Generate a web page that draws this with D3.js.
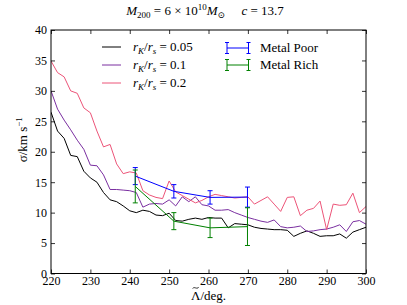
<!DOCTYPE html>
<html>
<head>
<meta charset="utf-8">
<script src="https://cdn.jsdelivr.net/npm/d3@7"></script>
<style>
  body { margin: 0; background: #fff; }
  text { font-family: "Liberation Serif", "DejaVu Serif", serif; }
</style>
</head>
<body>
<script>
// angle grid, 220..300 in steps of 5/3 deg
const lambda = d3.range(49).map(i => 220 + i * 5 / 3);

const sigmaK005 = [26.5, 23.4, 22.2, 19.4, 19.2, 16.8, 15.7, 15.0, 13.3, 12.1, 11.8, 11.1, 10.3, 10.0, 10.4, 10.2,
  9.6, 9.5, 9.9, 8.7, 8.6, 8.9, 9.1, 8.9, 9.2, 9.1, 9.1, 7.5, 8.2, 8.1, 8.0, 7.6, 7.4, 7.3, 7.2, 7.2, 7.1,
  6.1, 6.6, 7.0, 6.6, 6.1, 6.2, 6.2, 6.5, 5.8, 6.8, 7.2, 7.6];
const sigmaK01 = [30.0, 27.0, 25.2, 23.6, 21.9, 20.4, 17.8, 17.7, 16.2, 13.8, 13.8, 13.7, 13.6, 13.3, 10.9, 11.4,
  11.5, 11.4, 12.1, 11.1, 12.6, 11.8, 12.6, 11.3, 11.1, 10.4, 10.4, 10.5, 10.0, 9.6, 9.2, 8.9, 8.6, 8.4, 8.8,
  7.7, 7.5, 7.6, 7.8, 6.9, 7.0, 7.2, 7.3, 7.6, 8.0, 6.9, 8.5, 8.7, 8.1];
const sigmaK02 = [34.9, 33.0, 32.3, 30.0, 29.6, 27.2, 26.4, 23.4, 20.8, 21.2, 18.0, 16.4, 16.7, 16.5, 13.6, 12.9,
  12.5, 12.3, 15.2, 13.4, 12.8, 12.2, 11.6, 12.0, 12.6, 13.0, 12.8, 12.6, 12.4, 12.5, 12.6, 11.4, 12.0, 12.6,
  11.4, 10.2, 12.5, 12.6, 9.5, 10.4, 10.7, 11.9, 7.2, 11.4, 11.2, 11.3, 13.2, 10.0, 11.0];

const poorX = [241.4, 251.2, 260.4, 269.9];
const poorSigma = [16.0, 13.5, 12.5, 12.55];
const poorErr = [1.4, 1.1, 1.1, 1.65];

const richX = [241.4, 251.2, 260.4, 269.9];
const richSigma = [14.3, 8.6, 7.5, 7.7];
const richErr = [2.7, 1.4, 1.6, 3.1];

const xTicks = [220, 230, 240, 250, 260, 270, 280, 290, 300];
const yTicks = [0, 5, 10, 15, 20, 25, 30, 35, 40];

const models = [
  { ratio: "0.05", values: sigmaK005, color: "#000000" },
  { ratio: "0.1", values: sigmaK01, color: "#7a2fa0" },
  { ratio: "0.2", values: sigmaK02, color: "#ec5478" }
];
const samples = [
  { name: "Metal Poor", xs: poorX, ys: poorSigma, err: poorErr, color: "#0000ff" },
  { name: "Metal Rich", xs: richX, ys: richSigma, err: richErr, color: "#008000" }
];

const W = 407, H = 305;
const margin = { top: 30, right: 41, bottom: 31.5, left: 51 };
const width = W - margin.left - margin.right;
const height = H - margin.top - margin.bottom;

const svg = d3.select("body").append("svg")
  .attr("width", W)
  .attr("height", H);

const g = svg.append("g")
  .attr("transform", `translate(${margin.left},${margin.top})`);

const x = d3.scaleLinear().domain([220, 300]).range([0, width]);
const y = d3.scaleLinear().domain([0, 40]).range([height, 0]);

svg.append("defs").append("clipPath").attr("id", "clip")
  .append("rect").attr("width", width).attr("height", height);

const plot = g.append("g").attr("clip-path", "url(#clip)");

const line = d3.line()
  .x((d, i) => x(lambda[i]))
  .y(d => y(d));

models.forEach(m => {
  plot.append("path")
    .attr("d", line(m.values))
    .attr("fill", "none")
    .attr("stroke", m.color)
    .attr("stroke-width", 1);
});

samples.forEach(s => {
  const pts = s.xs.map((v, i) => [x(v), y(s.ys[i])]);
  plot.append("path")
    .attr("d", d3.line()(pts))
    .attr("fill", "none")
    .attr("stroke", s.color)
    .attr("stroke-width", 1);
  s.xs.forEach((v, i) => {
    const cx = x(v), lo = y(s.ys[i] - s.err[i]), hi = y(s.ys[i] + s.err[i]);
    plot.append("line").attr("x1", cx).attr("x2", cx).attr("y1", lo).attr("y2", hi)
      .attr("stroke", s.color);
    [lo, hi].forEach(yy => {
      plot.append("line").attr("x1", cx - 2.5).attr("x2", cx + 2.5).attr("y1", yy).attr("y2", yy)
        .attr("stroke", s.color);
    });
  });
});

// frame
g.append("rect")
  .attr("width", width).attr("height", height)
  .attr("fill", "none").attr("stroke", "#000").attr("stroke-width", 1);

// inward ticks on all four sides
const xAxisB = d3.axisBottom(x).tickValues(xTicks).tickSizeInner(-4).tickSizeOuter(0).tickPadding(3);
const xAxisT = d3.axisTop(x).tickValues(xTicks).tickSizeInner(-4).tickSizeOuter(0).tickFormat("");
const yAxisL = d3.axisLeft(y).tickValues(yTicks).tickSizeInner(-4).tickSizeOuter(0).tickPadding(4);
const yAxisR = d3.axisRight(y).tickValues(yTicks).tickSizeInner(-4).tickSizeOuter(0).tickFormat("");

[g.append("g").attr("transform", `translate(0,${height})`).call(xAxisB),
 g.append("g").call(xAxisT),
 g.append("g").call(yAxisL),
 g.append("g").attr("transform", `translate(${width},0)`).call(yAxisR)].forEach(ax => {
  ax.attr("font-family", null);
  ax.select(".domain").remove();
  ax.selectAll("line").attr("stroke", "#000").attr("stroke-width", 0.8);
  ax.selectAll("text").attr("font-size", 12).attr("fill", "#000");
});

// title
const title = svg.append("text")
  .attr("x", 205).attr("y", 15)
  .attr("text-anchor", "middle")
  .attr("font-size", 13);
title.append("tspan").attr("font-style", "italic").text("M");
title.append("tspan").attr("font-size", 9).attr("dy", 3).text("200");
title.append("tspan").attr("dy", -3).text(" = 6 × 10");
title.append("tspan").attr("font-size", 9).attr("dy", -5).text("10");
title.append("tspan").attr("dy", 5).attr("font-style", "italic").text("M");
title.append("tspan").attr("font-size", 9).attr("dy", 3).text("⊙");
title.append("tspan").attr("dy", -3).attr("xml:space", "preserve").text("     ");
title.append("tspan").attr("font-style", "italic").text("c");
title.append("tspan").text(" = 13.7");

// axis labels
const xl = svg.append("text")
  .attr("x", margin.left + width / 2).attr("y", 300)
  .attr("text-anchor", "middle")
  .attr("font-size", 13)
  .text("Λ/deg.");
// tilde accent over the Lambda
const lam = xl.node().getExtentOfChar(0);
const tx = lam.x + lam.width / 2, ty = lam.y - 0.5;
svg.append("path")
  .attr("d", `M${tx - 3},${ty + 1} C${tx - 1.5},${ty - 1.5} ${tx + 1.5},${ty + 2.5} ${tx + 3},${ty - 0.5}`)
  .attr("fill", "none")
  .attr("stroke", "#000")
  .attr("stroke-width", 0.8);

const yl = svg.append("text")
  .attr("transform", `translate(27,${margin.top + height / 2 - 12}) rotate(-90)`)
  .attr("text-anchor", "middle")
  .attr("font-size", 13);
yl.append("tspan").text("σ/km s");
yl.append("tspan").attr("font-size", 9).attr("dy", -5).text("−1");

// legend: model lines
const leg1 = g.append("g");
models.forEach((m, i) => {
  const ly = 17 + i * 18;
  leg1.append("line")
    .attr("x1", 51).attr("x2", 70).attr("y1", ly).attr("y2", ly)
    .attr("stroke", m.color);
  const t = leg1.append("text").attr("x", 82).attr("y", ly + 4).attr("font-size", 13);
  t.append("tspan").attr("font-style", "italic").text("r");
  t.append("tspan").attr("font-style", "italic").attr("font-size", 9).attr("dy", 3).text("K");
  t.append("tspan").attr("dy", -3).text("/");
  t.append("tspan").attr("font-style", "italic").text("r");
  t.append("tspan").attr("font-style", "italic").attr("font-size", 9).attr("dy", 3).text("s");
  t.append("tspan").attr("dy", -3).text(" = " + m.ratio);
});

// legend: error bar samples
const leg2 = g.append("g");
samples.forEach((s, i) => {
  const ly = 18 + i * 17;
  leg2.append("line").attr("x1", 176).attr("x2", 197.5).attr("y1", ly).attr("y2", ly).attr("stroke", s.color);
  [176, 197.5].forEach(xx => {
    leg2.append("line").attr("x1", xx).attr("x2", xx).attr("y1", ly - 5.5).attr("y2", ly + 5.5).attr("stroke", s.color);
    [ly - 5.5, ly + 5.5].forEach(yy => {
      leg2.append("line").attr("x1", xx - 2).attr("x2", xx + 2).attr("y1", yy).attr("y2", yy).attr("stroke", s.color);
    });
  });
  leg2.append("text").attr("x", 209).attr("y", ly + 4).attr("font-size", 13).text(s.name);
});
</script>
</body>
</html>
